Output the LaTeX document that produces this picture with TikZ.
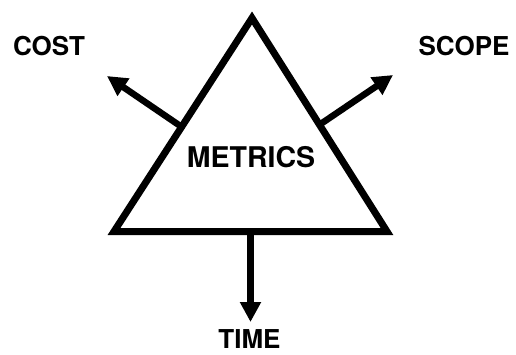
\documentclass[tikz,border=0pt]{standalone}
\usepackage{fontspec}
\setmainfont{TeX Gyre Heros}
\usetikzlibrary{arrows.meta,calc}

\begin{document}
\begin{tikzpicture}[x=1pt,y=-1pt,>={Triangle[length=20pt,width=20pt]},
  lbl/.style={font=\bfseries\fontsize{26}{30}\selectfont,inner sep=0pt}]
  \useasboundingbox (0,0) rectangle (516,354);
  \coordinate (A) at (252,18);
  \coordinate (L) at (114,231.5);
  \coordinate (R) at (387,231.5);
  \coordinate (c) at (107,76);
  \coordinate (s) at (393,75);
  \coordinate (t) at (250.5,322);
  \draw[line width=7pt] (A)--(L)--(R)--cycle;
  \draw[line width=6.5pt,->] ($(A)!0.51!(L)$) -- (c);
  \draw[line width=6.5pt,->] ($(A)!0.5!(R)$) -- (s);
  \draw[line width=6.5pt,->] ($(L)!0.5!(R)$) -- (t);
  \node[lbl,font=\bfseries\fontsize{28.5}{32}\selectfont] (metrics) at (251,157.5) {METRICS};
  \node[lbl] (cost) at (49,46) {COST};
  \node[lbl] (scope) at (464,46) {SCOPE};
  \node[lbl] (time) at (249.5,339) {TIME};
\end{tikzpicture}
\end{document}
